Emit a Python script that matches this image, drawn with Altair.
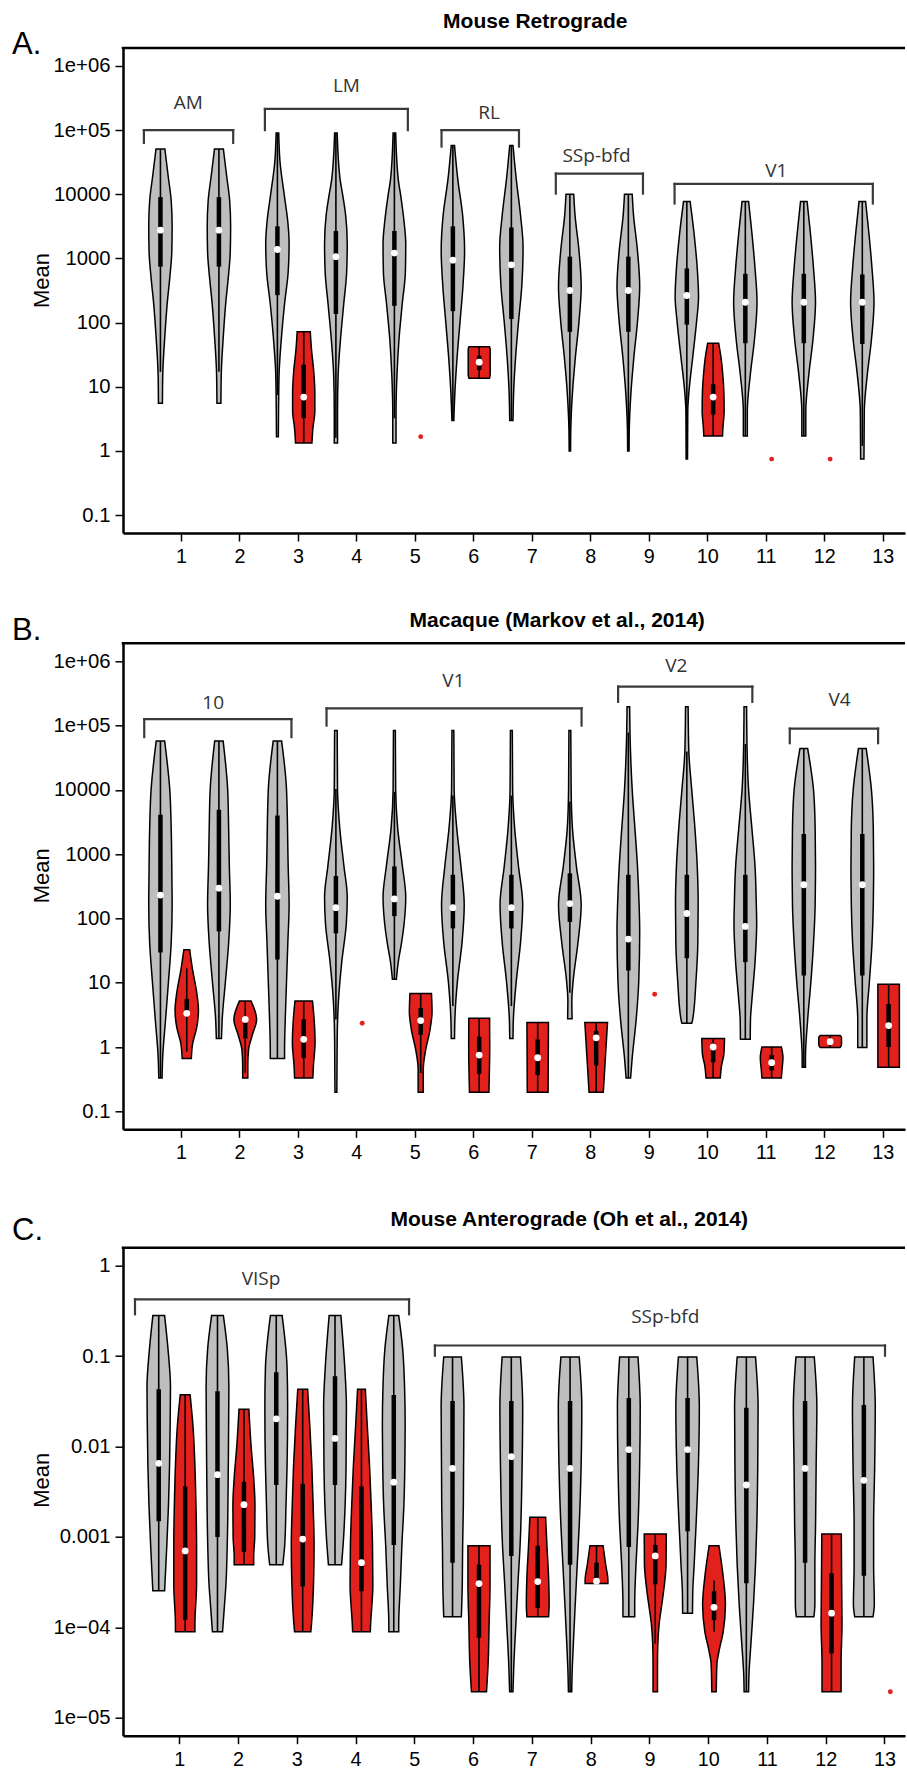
import altair as alt
import pandas as pd

GREY = "#BEBEBE"
RED = "#E3211C"
HW = 0.2          # max violin half-width (x units)
W = 782           # plot width (px)

# ================= Panel A: Mouse Retrograde (log10 values) =================
A_pos = [0.65, 1.65, 2.65, 3.1, 3.65, 4.65, 5.65, 6.1, 6.65, 7.65, 8.65, 9.65, 10.1, 10.65, 11.65, 12.65]
A_kind = ["g", "g", "g", "r", "g", "g", "g", "r", "g", "g", "g", "g", "r", "g", "g", "g"]
A_prof = [
    [[4.706, .38], [4.3, .65], [3.9, .92], [3.5, 1.0], [3.1, .97], [2.7, .8], [2.3, .58], [1.8, .38], [1.2, .2], [0.744, .17]],
    [[4.706, .38], [4.3, .65], [3.9, .92], [3.5, 1.0], [3.1, .97], [2.7, .8], [2.3, .58], [1.8, .38], [1.2, .2], [0.744, .17]],
    [[4.956, .11], [4.511, .22], [3.956, .61], [3.567, .89], [3.233, 1.0], [2.789, .92], [2.289, .61], [1.733, .33], [1.178, .14], [0.222, .08]],
    [[1.856, .56], [1.567, .67], [1.233, .86], [0.9, .95], [0.622, .95], [0.344, .78], [0.122, .7]],
    [[4.956, .11], [4.233, .36], [3.956, .61], [3.678, .83], [3.233, .97], [2.789, .92], [2.289, .67], [1.733, .39], [1.178, .19], [0.622, .14], [0.122, .14]],
    [[4.956, .11], [4.233, .33], [3.956, .56], [3.567, .83], [3.233, .97], [2.789, .94], [2.289, .67], [1.733, .39], [1.178, .22], [0.622, .14], [0.122, .14]],
    [[4.761, .14], [4.233, .42], [3.678, .83], [3.122, 1.0], [2.567, .86], [2.011, .61], [1.456, .36], [0.9, .17], [0.472, .08]],
    [[1.622, .88], [1.58, .94], [1.2, .94], [1.133, .88]],
    [[4.761, .14], [4.233, .42], [3.678, .78], [3.178, 1.0], [2.567, .89], [2.011, .61], [1.456, .36], [0.9, .19], [0.472, .14]],
    [[4.0, .33], [3.678, .44], [3.122, .78], [2.567, .97], [2.011, .78], [1.456, .47], [0.9, .22], [0.344, .08], [0.0, .06]],
    [[4.0, .33], [3.678, .44], [3.122, .78], [2.567, .97], [2.011, .78], [1.456, .47], [0.9, .22], [0.344, .08], [0.0, .06]],
    [[3.889, .28], [3.4, .61], [2.844, .89], [2.4, 1.0], [2.011, .83], [1.456, .5], [0.9, .17], [0.622, .08], [-0.128, .06]],
    [[1.678, .47], [1.456, .67], [1.178, .83], [0.9, .92], [0.622, .94], [0.344, .83], [0.233, .8]],
    [[3.889, .28], [3.4, .56], [2.844, .83], [2.317, 1.0], [1.733, .78], [1.178, .42], [0.622, .17], [0.233, .17]],
    [[3.889, .28], [3.4, .56], [2.844, .83], [2.317, 1.0], [1.733, .78], [1.178, .42], [0.622, .17], [0.233, .17]],
    [[3.889, .28], [3.4, .56], [2.844, .83], [2.317, 1.0], [1.733, .78], [1.178, .42], [0.622, .17], [-0.128, .14]],
]
A_q3 = [3.956, 3.956, 3.5, 1.344, 3.428, 3.428, 3.5, 1.483, 3.483, 3.028, 3.028, 2.844, 1.039, 2.761, 2.761, 2.75]
A_q1 = [2.872, 2.872, 2.428, 0.511, 2.133, 2.261, 2.178, 1.261, 2.056, 1.856, 1.856, 1.967, 0.567, 1.678, 1.678, 1.667]
A_med = [3.44, 3.44, 3.139, 0.839, 3.028, 3.083, 2.972, 1.383, 2.9, 2.5, 2.5, 2.422, 0.839, 2.317, 2.317, 2.317]
A_wlo = {0: 1.233, 1: 1.233, 2: 0.87, 4: 0.2, 5: 0.51, 15: 0.078}
A_whi = {}
A_dot_x = [5.1, 11.1, 12.1]
A_dot_y = [0.222, -0.128, -0.128]
A_br_lab = ["AM", "LM", "RL", "SSp-bfd", "V1"]
A_br_x0 = [0.367, 2.436, 5.456, 7.41, 9.44]
A_br_x1 = [1.894, 4.88, 6.78, 8.9, 12.83]
A_br_top = [5.0, 5.33, 5.0, 4.322, 4.161]
A_br_leg = [4.8, 5.0, 4.744, 4.011, 3.856]
A_lab_x = [1.125, 3.83, 6.27, 8.106, 11.18]
A_lab_y = [5.417, 5.69, 5.26, 4.594, 4.361]

# ================= Panel B: Macaque (log10 values) =================
B_pos = [0.65, 1.1, 1.65, 2.1, 2.65, 3.1, 3.65, 4.65, 5.1, 5.65, 6.1, 6.65, 7.1, 7.65, 8.1, 8.65, 9.65, 10.1, 10.65, 11.1, 11.65, 12.1, 12.65, 13.1]
B_kind = ["g", "r", "g", "r", "g", "r", "g", "g", "r", "g", "r", "g", "r", "g", "r", "g", "g", "r", "g", "r", "g", "r", "g", "r"]
B_prof = [
    [[4.762, .36], [4.0, .8], [3.405, .92], [2.81, .97], [2.214, 1.0], [1.619, .92], [1.024, .69], [0.429, .44], [-0.167, .19], [-0.482, .14]],
    [[1.512, .25], [1.2, .5], [0.85, .85], [0.575, 1.0], [0.3, .85], [0.05, .5], [-0.179, .39]],
    [[4.762, .36], [4.0, .75], [3.405, .83], [2.81, .89], [2.214, .97], [1.619, .83], [1.024, .56], [0.429, .28], [0.131, .22]],
    [[0.714, .5], [0.429, .97], [0.19, .61], [-0.048, .28], [-0.286, .22], [-0.482, .22]],
    [[4.762, .36], [4.0, .78], [2.81, .92], [2.214, 1.0], [1.619, .89], [1.024, .78], [0.429, .67], [-0.048, .61], [-0.179, .61]],
    [[0.714, .75], [0.429, .89], [0.071, .97], [-0.286, .83], [-0.482, .78]],
    [[4.923, .11], [4.0, .14], [3.405, .33], [2.81, .69], [2.333, .97], [1.917, .89], [1.321, .5], [0.726, .22], [0.131, .11], [-0.702, .08]],
    [[4.923, .08], [4.0, .11], [3.405, .28], [2.81, .69], [2.333, .97], [1.917, .83], [1.619, .61], [1.321, .33], [1.054, .17]],
    [[0.833, .92], [0.548, .97], [0.25, .78], [-0.048, .42], [-0.345, .22], [-0.702, .22]],
    [[4.923, .08], [4.0, .11], [3.405, .33], [2.81, .69], [2.214, .97], [1.619, .78], [1.024, .39], [0.429, .17], [0.131, .14]],
    [[0.446, .89], [0.0, .9], [-0.702, .83]],
    [[4.923, .08], [4.0, .11], [3.405, .28], [2.81, .61], [2.214, .97], [1.619, .78], [1.024, .42], [0.429, .17], [0.131, .14]],
    [[0.381, .92], [-0.702, .89]],
    [[4.923, .08], [4.0, .11], [3.405, .22], [2.81, .56], [2.214, .97], [1.619, .69], [1.024, .28], [0.726, .17], [0.44, .19]],
    [[0.381, .97], [-0.16, .79], [-0.702, .61]],
    [[5.292, .11], [4.893, .14], [4.0, .33], [3.405, .56], [2.81, .78], [2.214, .92], [1.798, .97], [1.024, .89], [0.429, .67], [-0.167, .33], [-0.482, .19]],
    [[5.292, .11], [4.595, .17], [4.0, .42], [3.405, .69], [2.81, .89], [2.214, .97], [1.619, .94], [1.024, .78], [0.429, .5], [0.369, .42]],
    [[0.131, .97], [-0.107, .92], [-0.286, .72], [-0.482, .61]],
    [[5.292, .11], [4.714, .14], [4.0, .28], [3.405, .56], [2.81, .83], [2.214, .94], [1.917, .97], [1.321, .83], [0.726, .56], [0.429, .44], [0.119, .42]],
    [[0.0, .83], [-0.167, .97], [-0.345, .89], [-0.482, .83]],
    [[4.643, .33], [4.0, .83], [3.405, .97], [2.81, 1.0], [2.214, .97], [1.619, .83], [1.024, .61], [0.429, .33], [-0.167, .14], [-0.315, .14]],
    [[0.179, .85], [0.15, .97], [0.03, .97], [-0.006, .85]],
    [[4.643, .33], [4.0, .78], [3.405, .94], [2.81, .97], [2.214, .94], [1.619, .83], [1.024, .61], [0.429, .39], [-0.006, .39]],
    [[0.976, .92], [-0.315, .92]],
]
B_q3 = [3.613, 0.746, 3.69, 0.458, 3.6, 0.429, 2.661, 2.81, 0.607, 2.679, 0.161, 2.679, 0.119, 2.702, 0.25, 2.679, 2.679, 0.06, 2.679, -0.125, 3.315, 0.12, 3.315, 0.667]
B_q1 = [1.47, 0.497, 1.798, 0.131, 1.363, -0.167, 1.768, 2.036, 0.19, 1.845, -0.417, 1.845, -0.435, 1.946, -0.286, 1.19, 1.381, -0.238, 1.321, -0.363, 1.113, 0.05, 1.113, 0.0]
B_med = [2.363, 0.524, 2.47, 0.429, 2.345, 0.119, 2.167, 2.304, 0.411, 2.167, -0.125, 2.167, -0.167, 2.232, 0.143, 1.679, 2.077, 0.0, 1.875, -0.244, 2.524, 0.083, 2.524, 0.333]
B_wlo = {1: -0.073, 3: -0.4, 6: 0.429, 8: -0.405, 9: 0.637, 11: 0.637, 13: 0.845}
B_whi = {1: 1.223, 6: 4.012, 7: 3.97, 9: 3.911, 11: 3.911, 13: 3.821, 15: 4.893, 16: 4.595, 18: 4.714}
B_dot_x = [4.1, 9.1]
B_dot_y = [0.369, 0.821]
B_br_lab = ["10", "V1", "V2", "V4"]
B_br_x0 = [0.373, 3.49, 8.475, 11.41]
B_br_x1 = [2.89, 7.85, 10.77, 12.92]
B_br_top = [5.101, 5.268, 5.607, 4.952]
B_br_leg = [4.821, 5.0, 5.369, 4.726]
B_lab_x = [1.552, 5.66, 9.47, 12.26]
B_lab_y = [5.357, 5.696, 5.934, 5.399]

# ================= Panel C: Mouse Anterograde (log10 values) =================
C_pos = [0.65, 1.1, 1.65, 2.1, 2.65, 3.1, 3.65, 4.1, 4.65, 5.65, 6.1, 6.65, 7.1, 7.65, 8.1, 8.65, 9.1, 9.65, 10.1, 10.65, 11.65, 12.1, 12.65]
C_kind = ["g", "r", "g", "r", "g", "r", "g", "r", "g", "g", "r", "g", "r", "g", "r", "g", "r", "g", "r", "g", "g", "r", "g"]
C_prof = [
    [[-0.551, .5], [-0.909, .78], [-1.345, 1.0], [-1.782, .97], [-2.218, .92], [-2.654, .83], [-3.09, .69], [-3.439, .56], [-3.597, .5]],
    [[-1.427, .42], [-1.782, .67], [-2.218, .83], [-2.654, .92], [-3.09, .97], [-3.527, .97], [-3.963, .83], [-4.05, .83]],
    [[-0.551, .5], [-0.909, .83], [-1.345, .97], [-2.218, .92], [-3.09, .83], [-3.527, .72], [-3.745, .6], [-4.05, .43]],
    [[-1.589, .42], [-1.999, .61], [-2.348, .83], [-2.654, .94], [-3.002, .92], [-3.221, .83], [-3.307, .83]],
    [[-0.551, .5], [-1.126, .92], [-1.562, .97], [-2.218, .92], [-2.654, .83], [-3.09, .72], [-3.307, .56]],
    [[-1.366, .42], [-1.782, .61], [-2.218, .78], [-2.654, .89], [-3.09, .97], [-3.527, .92], [-3.963, .75], [-4.05, .69]],
    [[-0.551, .5], [-1.126, .83], [-1.562, .97], [-2.218, .94], [-2.654, .86], [-3.09, .69], [-3.307, .56]],
    [[-1.366, .33], [-1.782, .5], [-2.218, .69], [-2.654, .83], [-3.09, .94], [-3.527, .97], [-3.963, .78], [-4.05, .75]],
    [[-0.551, .42], [-0.909, .75], [-1.345, .92], [-1.782, .97], [-2.218, .94], [-2.654, .86], [-3.09, .69], [-3.527, .56], [-3.963, .42], [-4.05, .42]],
    [[-1.009, .75], [-1.562, .97], [-2.218, .94], [-2.654, .92], [-3.09, .86], [-3.527, .83], [-3.884, .75]],
    [[-3.098, .94], [-3.527, .94], [-3.963, .86], [-4.399, .78], [-4.713, .64]],
    [[-1.009, .78], [-1.562, .97], [-2.218, .92], [-3.09, .75], [-3.527, .56], [-3.963, .39], [-4.399, .22], [-4.713, .14]],
    [[-2.784, .67], [-3.09, .78], [-3.439, .92], [-3.745, .97], [-3.884, .92]],
    [[-1.009, .78], [-1.562, 1.0], [-2.218, .94], [-2.872, .78], [-3.307, .61], [-3.745, .44], [-4.181, .28], [-4.53, .17], [-4.713, .14]],
    [[-3.098, .56], [-3.307, .78], [-3.482, .97], [-3.517, .97]],
    [[-1.009, .78], [-1.562, .97], [-2.218, .92], [-2.872, .78], [-3.307, .61], [-3.745, .5], [-3.884, .5]],
    [[-2.967, .94], [-3.307, .92], [-3.527, .78], [-3.745, .56], [-3.963, .33], [-4.181, .22], [-4.399, .19], [-4.713, .19]],
    [[-1.009, .78], [-1.562, 1.0], [-2.218, .92], [-2.872, .72], [-3.307, .56], [-3.613, .44], [-3.844, .42]],
    [[-3.098, .42], [-3.439, .78], [-3.745, .97], [-4.05, .78], [-4.268, .42], [-4.399, .25], [-4.713, .19]],
    [[-1.009, .78], [-1.562, 1.0], [-2.218, .97], [-2.872, .89], [-3.307, .78], [-3.745, .61], [-4.181, .39], [-4.53, .22], [-4.713, .19]],
    [[-1.009, .78], [-1.562, 1.0], [-2.218, .94], [-2.872, .89], [-3.307, .83], [-3.745, .83], [-3.884, .75]],
    [[-2.967, .83], [-3.527, .86], [-3.963, .89], [-4.399, .81], [-4.713, .81]],
    [[-1.009, .78], [-1.562, .97], [-2.218, .92], [-2.872, .83], [-3.307, .83], [-3.745, .89], [-3.884, .78]],
]
C_q3 = [-1.366, -2.443, -1.388, -2.391, -1.178, -2.413, -1.222, -2.443, -1.431, -1.497, -3.307, -1.497, -3.098, -1.497, -3.286, -1.462, -3.089, -1.462, -3.6, -1.571, -1.497, -3.404, -1.541]
C_q1 = [-2.827, -3.918, -3.002, -3.165, -2.426, -3.547, -2.426, -3.6, -3.09, -3.286, -4.115, -3.212, -3.787, -3.307, -3.46, -3.111, -3.525, -2.937, -3.92, -3.513, -3.286, -4.29, -3.43]
C_med = [-2.186, -3.155, -2.312, -2.644, -1.693, -3.024, -1.911, -3.286, -2.395, -2.243, -3.517, -2.112, -3.495, -2.243, -3.49, -2.034, -3.211, -2.034, -3.779, -2.426, -2.243, -3.844, -2.374]
C_wlo = {16: -4.181, 18: -4.05}
C_whi = {18: -3.482}
C_dot_x = [13.1]
C_dot_y = [-4.713]
C_br_lab = ["VISp", "SSp-bfd"]
C_br_x0 = [0.246, 5.35]
C_br_x1 = [4.91, 13.01]
C_br_top = [-0.371, -0.882]
C_br_leg = [-0.537, -0.995]
C_lab_x = [2.39, 9.27]
C_lab_y = [-0.144, -0.572]

AB_ticks = [-1, 0, 1, 2, 3, 4, 5, 6]
AB_labels = ["0.1", "1", "10", "100", "1000", "10000", "1e+05", "1e+06"]
C_ticks = [-5, -4, -3, -2, -1, 0]
C_labels = ["1e\u221205", "1e\u221204", "0.001", "0.01", "0.1", "1"]
X_ticks = list(range(1, 14))


def label_expr(ticks, labels):
    expr = "''"
    for t, l in zip(ticks, labels):
        expr = f"abs(log(datum.value)/LN10 - ({t})) < 0.01 ? '{l}' : " + expr
    return expr


def panel(pos, kind, prof, q3, q1, med, wlo, whi, dx, dy,
          brl, bx0, bx1, btop, bleg, lx, ly,
          ydom, ticks, labels, xdom, height,
          letter, letter_y, title, title_x, title_y):
    vrows, brows = [], []
    for i, (p, k, pr) in enumerate(zip(pos, kind, prof)):
        for lv, f in pr:
            vrows.append({"vid": i, "fillc": GREY if k == "g" else RED,
                          "val": 10 ** lv,
                          "lo": p - HW * f, "hi": p + HW * f})
        levels = [a for a, _ in pr]
        brows.append({"pos": p,
                      "q3": 10 ** q3[i], "q1": 10 ** q1[i], "med": 10 ** med[i],
                      "wlo": 10 ** wlo.get(i, min(levels)),
                      "whi": 10 ** whi.get(i, max(levels))})
    vdf = pd.DataFrame(vrows)
    bdf = pd.DataFrame(brows)
    ddf = pd.DataFrame({"x": dx, "y": [10 ** v for v in dy]})
    segs = []
    for a, b, t, g in zip(bx0, bx1, btop, bleg):
        segs.append({"xa": a, "xb": b, "ya": 10 ** t, "yb": 10 ** t})
        segs.append({"xa": a, "xb": a, "ya": 10 ** g, "yb": 10 ** t})
        segs.append({"xa": b, "xb": b, "ya": 10 ** g, "yb": 10 ** t})
    sdf = pd.DataFrame(segs)
    ldf = pd.DataFrame({"lab": brl, "x": lx, "y": [10 ** v for v in ly]})

    xs = alt.Scale(domain=xdom, nice=False, zero=False)
    ys = alt.Scale(type="log", domain=[10 ** ydom[0], 10 ** ydom[1]], nice=False)
    xaxis = alt.Axis(values=X_ticks, title=None, grid=False, labelFontSize=19.8,
                     labelPadding=5.5, format="d", labelOverlap=False, labelFlush=False)
    yaxis = alt.Axis(values=[10 ** t for t in ticks], labelExpr=label_expr(ticks, labels),
                     title="Mean", grid=False, labelOverlap=False, labelFlush=False,
                     titleAngle=270, titleX=-75, titleY=232, titleAlign="center",
                     titleBaseline="alphabetic", titleFontSize=22, titleFontWeight="normal")

    def X(f):
        return alt.X(f, scale=xs, axis=xaxis)

    def Y(f):
        return alt.Y(f, scale=ys, axis=yaxis)

    violins = alt.Chart(vdf).mark_area(
        orient="horizontal", interpolate="monotone", stroke="black", strokeWidth=1.5
    ).encode(
        y=Y("val:Q"),
        x=X("lo:Q"),
        x2="hi:Q",
        detail="vid:N",
        fill=alt.Fill("fillc:N", scale=None),
    )
    whisk = alt.Chart(bdf).mark_rule(color="black", strokeWidth=1.6).encode(
        x=X("pos:Q"), y=Y("wlo:Q"), y2="whi:Q")
    box = alt.Chart(bdf).mark_rule(color="black", strokeWidth=4.5).encode(
        x=X("pos:Q"), y=Y("q1:Q"), y2="q3:Q")
    meds = alt.Chart(bdf).mark_circle(color="white", opacity=1, size=46).encode(
        x=X("pos:Q"), y=Y("med:Q"))
    dots = alt.Chart(ddf).mark_circle(color=RED, opacity=1, size=24).encode(
        x=X("x:Q"), y=Y("y:Q"))
    brackets = alt.Chart(sdf).mark_rule(color="#3a3a3a", strokeWidth=2.2, strokeCap="square").encode(
        x=X("xa:Q"), x2="xb:Q", y=Y("ya:Q"), y2="yb:Q")
    blabels = alt.Chart(ldf).mark_text(font="Open Sans", fontSize=19, color="#333333",
                                       baseline="middle", align="center").encode(
        x=X("x:Q"), y=Y("y:Q"), text="lab:N")
    top = alt.Chart(pd.DataFrame({"k": [0]})).mark_rule(color="black", strokeWidth=2.5).encode(
        x=alt.value(-1.25), x2=alt.value(W), y=alt.value(0))
    let = alt.Chart(pd.DataFrame({"t": [letter]})).mark_text(
        font="Liberation Sans", fontSize=31, align="left", baseline="alphabetic", color="black"
    ).encode(text="t:N", x=alt.value(-111), y=alt.value(letter_y))
    ttl = alt.Chart(pd.DataFrame({"t": [title]})).mark_text(
        font="Liberation Sans", fontSize=21, fontWeight="bold", align="center",
        baseline="alphabetic", color="black"
    ).encode(text="t:N", x=alt.value(title_x), y=alt.value(title_y))

    return alt.layer(violins, whisk, box, meds, dots, brackets, blabels, top, let, ttl).properties(
        width=W, height=height)


pA = panel(A_pos, A_kind, A_prof, A_q3, A_q1, A_med, A_wlo, A_whi, A_dot_x, A_dot_y,
           A_br_lab, A_br_x0, A_br_x1, A_br_top, A_br_leg, A_lab_x, A_lab_y,
           [-1.28, 6.28], AB_ticks, AB_labels, [0.01, 13.38], 485,
           "A.", 5.6, "Mouse Retrograde", 412.3, -20.2)
pB = panel(B_pos, B_kind, B_prof, B_q3, B_q1, B_med, B_wlo, B_whi, B_dot_x, B_dot_y,
           B_br_lab, B_br_x0, B_br_x1, B_br_top, B_br_leg, B_lab_x, B_lab_y,
           [-1.28, 6.28], AB_ticks, AB_labels, [0.01, 13.38], 486,
           "B.", -3, "Macaque (Markov et al., 2014)", 434.2, -16.3)
pC = panel(C_pos, C_kind, C_prof, C_q3, C_q1, C_med, C_wlo, C_whi, C_dot_x, C_dot_y,
           C_br_lab, C_br_x0, C_br_x1, C_br_top, C_br_leg, C_lab_x, C_lab_y,
           [-5.2, 0.2], C_ticks, C_labels, [0.042, 13.35], 488,
           "C.", -7.7, "Mouse Anterograde (Oh et al., 2014)", 446.2, -21.5)

inner = alt.vconcat(pB, pC, spacing=118.4, bounds="flush", center=False)
chart = alt.vconcat(pA, inner, spacing=110.3, bounds="flush", center=False).properties(
    padding={"left": 12, "top": 10, "right": 0, "bottom": 0}
).configure_view(stroke=None).configure_axis(
    domainColor="black", domainWidth=2.5, tickColor="black", tickWidth=1.5, tickSize=8,
    labelFont="Liberation Sans", labelFontSize=20.3, labelColor="black", labelPadding=5,
    titleFont="Liberation Sans", titleColor="black"
)

chart.save("out.html", embed_options={"renderer": "svg", "actions": False})
